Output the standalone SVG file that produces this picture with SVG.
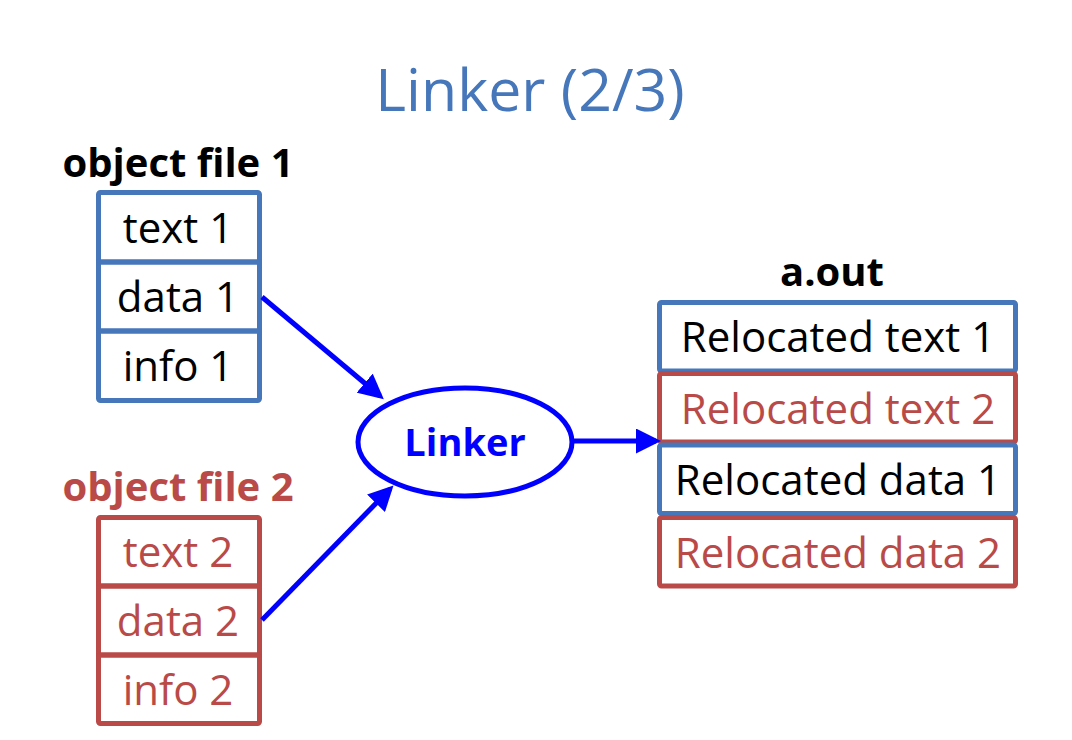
<svg xmlns="http://www.w3.org/2000/svg" width="1072" height="740" viewBox="0 0 1072 740">
<defs>
<style>
text{font-family:"Open Sans","Liberation Sans",sans-serif;text-anchor:middle}
.t{font-size:42px}
.b{font-weight:bold}
.bl{fill:none;stroke:#4677BA;stroke-width:5}
.rd{fill:none;stroke:#B94A48;stroke-width:5}
.k{fill:#000}
.r{fill:#B94A48}
.con{stroke:#0000FF;stroke-width:5;fill:none}
</style>
<marker id="ah" markerWidth="5" markerHeight="5" refX="4" refY="2.5" orient="auto" markerUnits="strokeWidth">
<path d="M0,0 L5,2.5 L0,5 Z" fill="#0000FF"/>
</marker>
</defs>
<rect width="1072" height="740" fill="#fff"/>
<text x="530" y="111" font-size="59" fill="#4677BA">Linker (2/3)</text>

<g id="objfile1">
<text x="178" y="177" class="b k" font-size="40">object file 1</text>
<rect x="98.5" y="192.5" width="161" height="69.5" rx="2" class="bl"/>
<rect x="98.5" y="262" width="161" height="69" class="bl"/>
<rect x="98.5" y="331" width="161" height="69.5" rx="2" class="bl"/>
<text x="178" y="243" class="t k">text 1</text>
<text x="178" y="312" class="t k">data 1</text>
<text x="178" y="381" class="t k">info 1</text>
</g>

<g id="objfile2">
<text x="178" y="501" class="b r" font-size="40">object file 2</text>
<rect x="98.5" y="517.5" width="161" height="68.5" rx="2" class="rd"/>
<rect x="98.5" y="586" width="161" height="69" class="rd"/>
<rect x="98.5" y="655" width="161" height="68.5" rx="2" class="rd"/>
<text x="178" y="567" class="t r">text 2</text>
<text x="178" y="636" class="t r">data 2</text>
<text x="178" y="705" class="t r">info 2</text>
</g>

<g id="linker">
<ellipse cx="465" cy="442" rx="107" ry="54" fill="#fff" stroke="#0000FF" stroke-width="5"/>
<text x="465" y="456" class="b" font-size="38" fill="#0000FF">Linker</text>
</g>

<g id="aout">
<text x="832" y="286" class="b k" font-size="40">a.out</text>
<rect x="659.5" y="302.5" width="356" height="68.5" rx="2" class="bl"/>
<rect x="659.5" y="373.5" width="356" height="68.5" rx="2" class="rd"/>
<rect x="659.5" y="445" width="356" height="68.5" rx="2" class="bl"/>
<rect x="659.5" y="517.5" width="356" height="68.5" rx="2" class="rd"/>
<text x="838" y="352" class="t k">Relocated text 1</text>
<text x="838" y="424" class="t r">Relocated text 2</text>
<text x="838" y="495" class="t k">Relocated data 1</text>
<text x="838" y="568" class="t r">Relocated data 2</text>
</g>

<g id="connectors">
<line x1="262" y1="297" x2="380" y2="396" class="con" marker-end="url(#ah)"/>
<line x1="262" y1="620" x2="390" y2="489" class="con" marker-end="url(#ah)"/>
<line x1="574" y1="441" x2="656" y2="441" class="con" marker-end="url(#ah)"/>
</g>
</svg>
